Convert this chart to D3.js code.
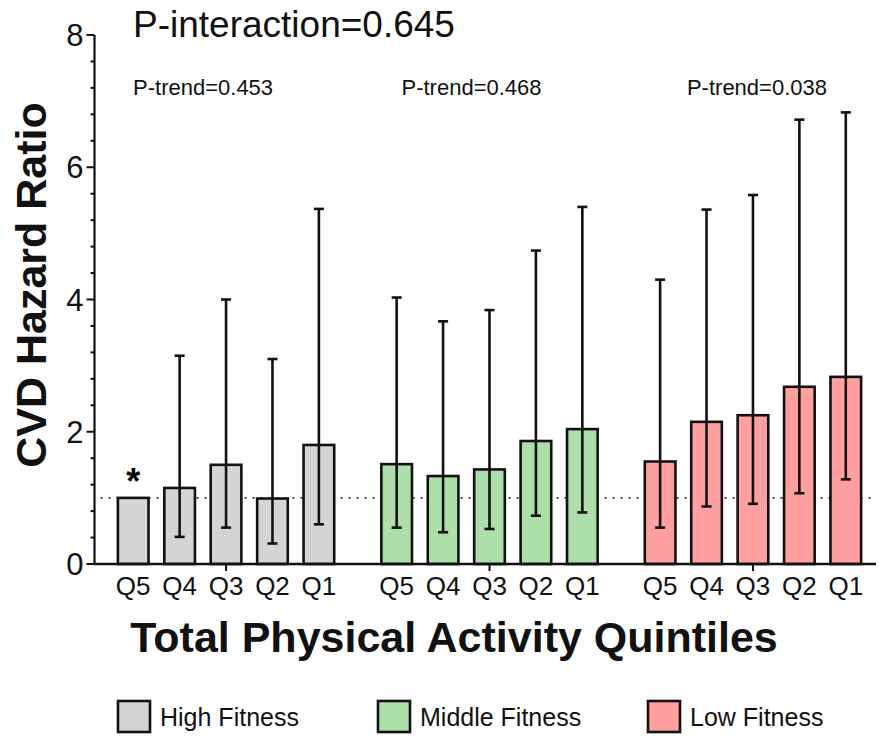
<!DOCTYPE html>
<html>
<head>
<meta charset="utf-8">
<script src="https://cdn.jsdelivr.net/npm/d3@7"></script>
<style>
  html, body { margin: 0; padding: 0; background: #fff; }
  svg { display: block; font-family: "Liberation Sans", Arial, Helvetica, sans-serif; }
</style>
</head>
<body>
<svg id="chart" width="879" height="740"></svg>
<script>
// Fitness groups and activity quintiles
const groups = ["High Fitness", "Middle Fitness", "Low Fitness"];
const quintiles = ["Q5", "Q4", "Q3", "Q2", "Q1"];
const groupColors = ["#d4d4d4", "#acdfaa", "#ff9f9f"];

// Hazard ratios per group (Q5..Q1)
const hrHigh   = [1.00, 1.15, 1.50, 0.99, 1.80];
const hrMiddle = [1.51, 1.33, 1.43, 1.86, 2.04];
const hrLow    = [1.55, 2.15, 2.25, 2.68, 2.83];

// 95% CI lower / upper bounds (reference category has none)
const lowerHigh   = [null, 0.41, 0.55, 0.31, 0.60];
const upperHigh   = [null, 3.15, 4.00, 3.10, 5.37];
const lowerMiddle = [0.55, 0.48, 0.53, 0.73, 0.78];
const upperMiddle = [4.03, 3.67, 3.84, 4.74, 5.40];
const lowerLow    = [0.55, 0.87, 0.91, 1.07, 1.28];
const upperLow    = [4.30, 5.36, 5.58, 6.72, 6.83];

const pTrends = ["P-trend=0.453", "P-trend=0.468", "P-trend=0.038"];
const pInteraction = "P-interaction=0.645";
const yTicks = [0, 2, 4, 6, 8];

const hrs = [hrHigh, hrMiddle, hrLow];
const lowers = [lowerHigh, lowerMiddle, lowerLow];
const uppers = [upperHigh, upperMiddle, upperLow];

const data = [];
groups.forEach((g, gi) => {
  quintiles.forEach((q, qi) => {
    data.push({ group: g, gi, q, hr: hrs[gi][qi], lo: lowers[gi][qi], hi: uppers[gi][qi] });
  });
});

const svg = d3.select("#chart");
const axisX = 94.5, plotTop = 35, plotBottom = 564, plotRight = 876;

const y = d3.scaleLinear().domain([0, 8]).range([plotBottom, plotTop]);
const xGroup = d3.scaleBand().domain(groups).range([110, 869]).paddingInner(0.119).paddingOuter(0);
const xQ = d3.scaleBand().domain(quintiles).range([0, xGroup.bandwidth()])
  .paddingInner(0.34).paddingOuter(0.17);

const ink = "#111";

// reference line at HR = 1
svg.append("line")
  .attr("x1", axisX + 6).attr("x2", plotRight)
  .attr("y1", y(1)).attr("y2", y(1))
  .attr("stroke", "#333").attr("stroke-width", 1.7)
  .attr("stroke-dasharray", "2,6");

// bars
const gBars = svg.append("g");
gBars.selectAll("rect").data(data).join("rect")
  .attr("x", d => xGroup(d.group) + xQ(d.q))
  .attr("y", d => y(d.hr))
  .attr("width", xQ.bandwidth())
  .attr("height", d => y(0) - y(d.hr))
  .attr("fill", d => groupColors[d.gi])
  .attr("stroke", ink).attr("stroke-width", 2.6);

// error bars
const cx = d => xGroup(d.group) + xQ(d.q) + xQ.bandwidth() / 2;
const eb = svg.append("g").attr("stroke", ink).attr("stroke-width", 2.6);
const withCI = data.filter(d => d.lo != null);
eb.selectAll("line.v").data(withCI).join("line").attr("class", "v")
  .attr("x1", cx).attr("x2", cx)
  .attr("y1", d => y(d.lo)).attr("y2", d => y(d.hi));
eb.selectAll("line.ct").data(withCI).join("line").attr("class", "ct")
  .attr("x1", d => cx(d) - 5).attr("x2", d => cx(d) + 5)
  .attr("y1", d => y(d.hi)).attr("y2", d => y(d.hi));
eb.selectAll("line.cb").data(withCI).join("line").attr("class", "cb")
  .attr("x1", d => cx(d) - 5).attr("x2", d => cx(d) + 5)
  .attr("y1", d => y(d.lo)).attr("y2", d => y(d.lo));

// reference category marker
const ref = data[0];
svg.append("text")
  .attr("x", cx(ref)).attr("y", y(ref.hr) - 4)
  .attr("text-anchor", "middle")
  .attr("font-size", 36).attr("font-weight", "bold")
  .text("*");

// y axis with minor ticks
const yAxis = svg.append("g").attr("transform", `translate(${axisX},0)`);
yAxis.append("line").attr("x1", 0).attr("x2", 0).attr("y1", y(0)).attr("y2", y(8))
  .attr("stroke", ink).attr("stroke-width", 2.2);
const minor = d3.range(0, 8.0001, 0.4);
yAxis.selectAll("line.minor").data(minor).join("line").attr("class", "minor")
  .attr("x1", d => (yTicks.includes(Math.round(d * 10) / 10) ? -8 : -4)).attr("x2", 0)
  .attr("y1", d => y(d)).attr("y2", d => y(d))
  .attr("stroke", ink).attr("stroke-width", 2);
yAxis.selectAll("text").data(yTicks).join("text")
  .attr("x", -11).attr("y", d => y(d)).attr("dy", "0.36em")
  .attr("text-anchor", "end").attr("font-size", 31).attr("fill", ink)
  .text(d => d);

// x axis
svg.append("line").attr("x1", axisX - 1).attr("x2", plotRight)
  .attr("y1", y(0)).attr("y2", y(0)).attr("stroke", ink).attr("stroke-width", 2.4);
svg.selectAll("line.gtick").data(groups).join("line").attr("class", "gtick")
  .attr("x1", g => xGroup(g) + xGroup.bandwidth() / 2).attr("x2", g => xGroup(g) + xGroup.bandwidth() / 2)
  .attr("y1", y(0)).attr("y2", y(0) + 7).attr("stroke", ink).attr("stroke-width", 2);
svg.selectAll("text.qlab").data(data).join("text").attr("class", "qlab")
  .attr("x", cx).attr("y", 595)
  .attr("text-anchor", "middle").attr("font-size", 26).attr("fill", ink)
  .text(d => d.q);

// titles
svg.append("text").attr("x", 454).attr("y", 652).attr("text-anchor", "middle")
  .attr("font-size", 43).attr("font-weight", "bold").attr("fill", ink)
  .text("Total Physical Activity Quintiles");
svg.append("text").attr("transform", `translate(46,285) rotate(-90)`)
  .attr("text-anchor", "middle").attr("font-size", 43).attr("font-weight", "bold").attr("fill", ink)
  .text("CVD Hazard Ratio");

svg.append("text").attr("x", 133).attr("y", 37)
  .attr("font-size", 37).attr("fill", ink).text(pInteraction);
const trendX = [-93, -88, -66];
svg.selectAll("text.ptrend").data(groups).join("text").attr("class", "ptrend")
  .attr("x", (g, i) => xGroup(g) + xGroup.bandwidth() / 2 + trendX[i]).attr("y", 95)
  .attr("font-size", 22).attr("fill", ink)
  .text((g, i) => pTrends[i]);

// legend
const legX = [118, 378, 648];
const leg = svg.selectAll("g.leg").data(groups).join("g").attr("class", "leg")
  .attr("transform", (g, i) => `translate(${legX[i]},701)`);
leg.append("rect").attr("width", 32).attr("height", 31)
  .attr("fill", (g, i) => groupColors[i]).attr("stroke", ink).attr("stroke-width", 2.6);
leg.append("text").attr("x", 42).attr("y", 16).attr("dy", "0.36em")
  .attr("font-size", 25).attr("fill", ink).text(g => g);
</script>
</body>
</html>
